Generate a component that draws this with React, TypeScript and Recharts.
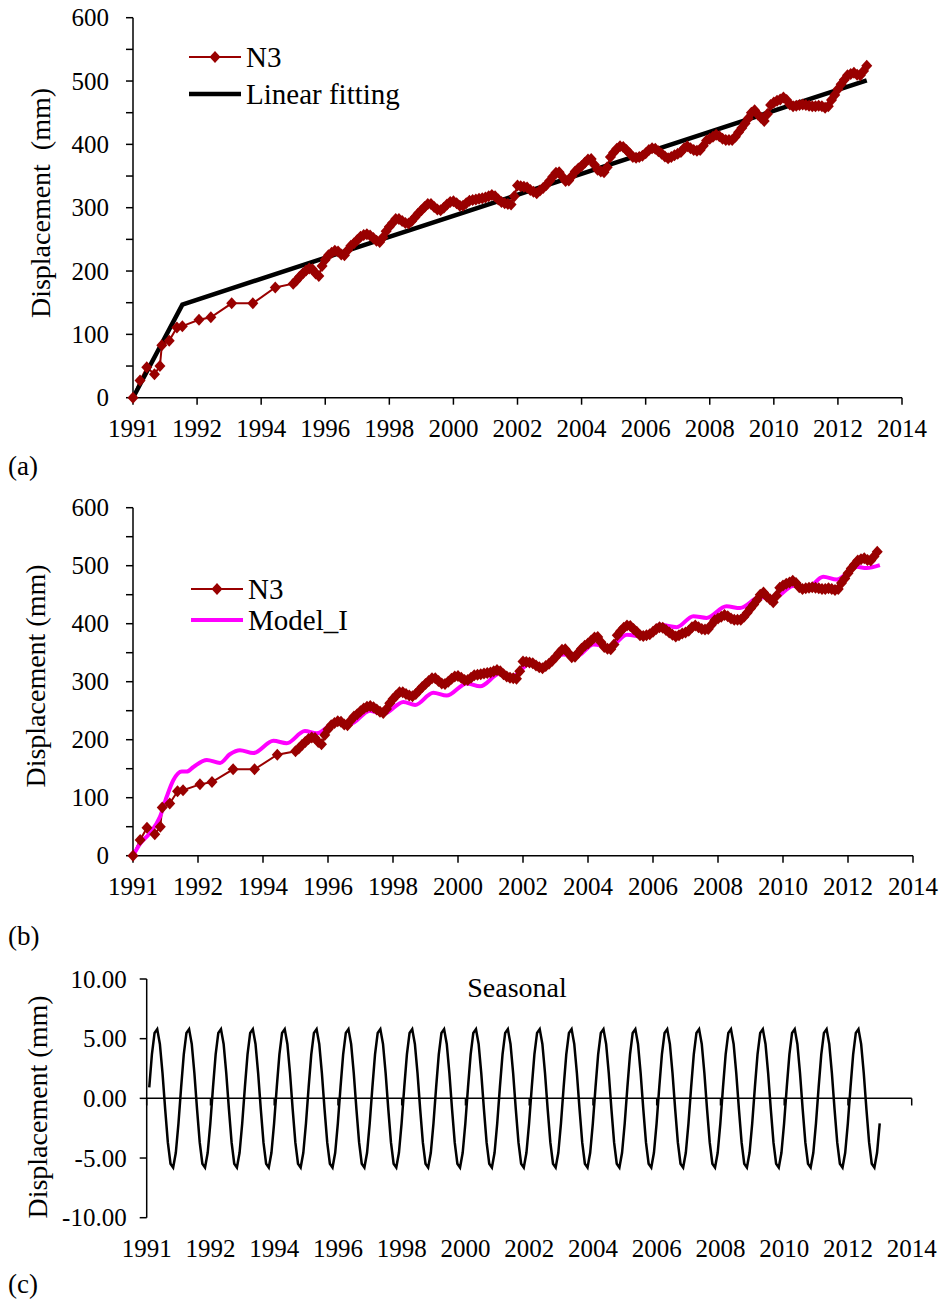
import React from 'react';
import { LineChart, Line, XAxis, YAxis, ReferenceLine } from 'recharts';

const SERIF = '"Liberation Serif", "Times New Roman", Times, serif';
const N3_COLOR = '#990000';
const MODEL_COLOR = '#ff00ff';
const AXIS_STYLE = { stroke: '#000', strokeWidth: 1.5 };

// x axis: a tick every two years; the first tick carries the start-year label
const YEAR_TICKS = [1990, 1992, 1994, 1996, 1998, 2000, 2002, 2004, 2006, 2008, 2010, 2012, 2014];
const YEAR_LABELS = ['1991', '1992', '1994', '1996', '1998', '2000', '2002', '2004', '2006', '2008', '2010', '2012', '2014'];

const DISP_TICKS = [0, 50, 100, 150, 200, 250, 300, 350, 400, 450, 500, 550, 600];
const SEASONAL_TICKS = [-10, -5, 0, 5, 10];

// N3 benchmark: sparse early surveys (decimal year, mm)
const N3_EARLY_YEARS = [1990.0, 1990.22, 1990.43, 1990.67, 1990.84, 1990.9, 1991.13, 1991.37, 1991.54, 1992.06, 1992.43, 1993.08, 1993.74, 1994.44];
const N3_EARLY_MM = [0, 27, 48, 37, 50, 83, 90, 111, 113, 123, 127, 149, 149, 174];

// N3 benchmark: dense record from 1995 on, one value every 0.1 year (mm)
const N3_DENSE_START = 1995.0;
const N3_DENSE_STEP = 0.1;
const N3_DENSE_MM = [
  180, 185, 191, 196, 201, 204, 203, 196, 192, 208,
  218, 225, 229, 232, 231, 226, 225, 233, 240, 244,
  249, 254, 257, 258, 256, 252, 248, 246, 253, 263,
  270, 276, 282, 282, 279, 276, 275, 279, 285, 291,
  296, 301, 306, 306, 301, 297, 296, 300, 305, 309,
  310, 307, 303, 303, 307, 311, 312, 313, 314, 315,
  316, 318, 320, 318, 313, 309, 307, 306, 305, 318,
  335, 334, 333, 332, 328, 325, 323, 327, 331, 336,
  342, 349, 355, 356, 349, 342, 343, 350, 357, 362,
  366, 371, 376, 377, 368, 360, 357, 356, 364, 380,
  387, 393, 397, 396, 391, 386, 380, 379, 380, 382,
  386, 391, 394, 393, 389, 385, 381, 378, 380, 383,
  385, 388, 394, 397, 394, 391, 390, 391, 398, 406,
  409, 412, 415, 413, 409, 407, 407, 407, 412, 419,
  426, 433, 441, 450, 454, 447, 442, 437, 448, 462,
  466, 469, 471, 474, 470, 463, 460, 461, 462, 463,
  462, 461, 460, 460, 461, 460, 458, 460, 470, 478,
  487, 495, 502, 509, 511, 513, 510, 509, 516, 524,
];

// Two-segment linear fit
const FIT_YEARS = [1990.0, 1991.54, 2012.9];
const FIT_MM = [0, 147, 501];

// Model_I (trend + seasonal term), read at its turning points
const MODEL_YEARS = [
  1990.0, 1990.22, 1990.52, 1990.83, 1991.04, 1991.24, 1991.5, 1991.65, 1991.86, 1992.27,
  1992.68, 1992.98, 1993.29, 1993.7, 1994.32, 1994.73, 1995.29, 1995.65, 1996.27, 1996.68,
  1997.29, 1997.7, 1998.32, 1998.68, 1999.24, 1999.65, 2000.27, 2000.68, 2001.29, 2001.7,
  2002.22, 2002.63, 2003.24, 2003.65, 2004.17, 2004.68, 2005.2, 2005.71, 2006.22, 2006.73,
  2007.24, 2007.65, 2008.26, 2008.68, 2009.29, 2009.7, 2010.32, 2010.73, 2011.24, 2011.65,
  2012.27, 2012.57, 2012.98,
];
const MODEL_MM = [
  0, 21, 39, 67, 102, 130, 145, 145, 153, 165,
  160, 175, 182, 177, 198, 194, 215, 211, 231, 227,
  250, 244, 265, 260, 281, 276, 297, 292, 314, 310,
  332, 327, 347, 344, 364, 361, 381, 377, 398, 394,
  413, 410, 430, 427, 446, 443, 465, 461, 481, 476,
  498, 496, 501,
];

// Seasonal component, monthly samples (mm)
const SEASONAL_START = 1990.08;
const SEASONAL_STEP = 1 / 12;
const SEASONAL_MM = [
  0.92, 3.69, 5.48, 5.8, 4.56, 2.1, -0.92, -3.69, -5.48, -5.8, -4.56, -2.1,
  0.92, 3.69, 5.48, 5.8, 4.56, 2.1, -0.92, -3.69, -5.48, -5.8, -4.56, -2.1,
  0.92, 3.69, 5.48, 5.8, 4.56, 2.1, -0.92, -3.69, -5.48, -5.8, -4.56, -2.1,
  0.92, 3.69, 5.48, 5.8, 4.56, 2.1, -0.92, -3.69, -5.48, -5.8, -4.56, -2.1,
  0.92, 3.69, 5.48, 5.8, 4.56, 2.1, -0.92, -3.69, -5.48, -5.8, -4.56, -2.1,
  0.92, 3.69, 5.48, 5.8, 4.56, 2.1, -0.92, -3.69, -5.48, -5.8, -4.56, -2.1,
  0.92, 3.69, 5.48, 5.8, 4.56, 2.1, -0.92, -3.69, -5.48, -5.8, -4.56, -2.1,
  0.92, 3.69, 5.48, 5.8, 4.56, 2.1, -0.92, -3.69, -5.48, -5.8, -4.56, -2.1,
  0.92, 3.69, 5.48, 5.8, 4.56, 2.1, -0.92, -3.69, -5.48, -5.8, -4.56, -2.1,
  0.92, 3.69, 5.48, 5.8, 4.56, 2.1, -0.92, -3.69, -5.48, -5.8, -4.56, -2.1,
  0.92, 3.69, 5.48, 5.8, 4.56, 2.1, -0.92, -3.69, -5.48, -5.8, -4.56, -2.1,
  0.92, 3.69, 5.48, 5.8, 4.56, 2.1, -0.92, -3.69, -5.48, -5.8, -4.56, -2.1,
  0.92, 3.69, 5.48, 5.8, 4.56, 2.1, -0.92, -3.69, -5.48, -5.8, -4.56, -2.1,
  0.92, 3.69, 5.48, 5.8, 4.56, 2.1, -0.92, -3.69, -5.48, -5.8, -4.56, -2.1,
  0.92, 3.69, 5.48, 5.8, 4.56, 2.1, -0.92, -3.69, -5.48, -5.8, -4.56, -2.1,
  0.92, 3.69, 5.48, 5.8, 4.56, 2.1, -0.92, -3.69, -5.48, -5.8, -4.56, -2.1,
  0.92, 3.69, 5.48, 5.8, 4.56, 2.1, -0.92, -3.69, -5.48, -5.8, -4.56, -2.1,
  0.92, 3.69, 5.48, 5.8, 4.56, 2.1, -0.92, -3.69, -5.48, -5.8, -4.56, -2.1,
  0.92, 3.69, 5.48, 5.8, 4.56, 2.1, -0.92, -3.69, -5.48, -5.8, -4.56, -2.1,
  0.92, 3.69, 5.48, 5.8, 4.56, 2.1, -0.92, -3.69, -5.48, -5.8, -4.56, -2.1,
  0.92, 3.69, 5.48, 5.8, 4.56, 2.1, -0.92, -3.69, -5.48, -5.8, -4.56, -2.1,
  0.92, 3.69, 5.48, 5.8, 4.56, 2.1, -0.92, -3.69, -5.48, -5.8, -4.56, -2.1,
  0.92, 3.69, 5.48, 5.8, 4.56, 2.1, -0.92, -3.69, -5.48, -5.8, -4.56, -2.1,
];

type Pt = { t: number; v: number };
const zip = (xs: number[], ys: number[]): Pt[] => xs.map((t, i) => ({ t, v: ys[i] }));

const n3Data: Pt[] = [
  ...zip(N3_EARLY_YEARS, N3_EARLY_MM),
  ...N3_DENSE_MM.map((v, i) => ({ t: N3_DENSE_START + i * N3_DENSE_STEP, v })),
];
const fitData = zip(FIT_YEARS, FIT_MM);
const modelData = zip(MODEL_YEARS, MODEL_MM);
const seasonalData: Pt[] = SEASONAL_MM.map((v, i) => ({ t: SEASONAL_START + i * SEASONAL_STEP, v }));

const yearLabel = (v: number) => {
  const i = YEAR_TICKS.indexOf(v);
  return i >= 0 ? YEAR_LABELS[i] : '';
};

const TICK_FONT = 25;
const TICK_TEXT_STYLE: React.CSSProperties = { fontFamily: SERIF, fontSize: TICK_FONT, fill: '#000' };

const YearTick = (props: any) => {
  const { x, y, payload } = props;
  return (
    <text x={x} y={y} dy="0.71em" textAnchor="middle" style={TICK_TEXT_STYLE}>
      {yearLabel(payload.value)}
    </text>
  );
};

const DispTick = (props: any) => {
  const { x, y, payload } = props;
  if (payload.value % 100 !== 0) return <g />;
  return (
    <text x={x} y={y} dy="0.35em" textAnchor="end" style={TICK_TEXT_STYLE}>
      {String(payload.value)}
    </text>
  );
};

const SeasonTick = (props: any) => {
  const { x, y, payload } = props;
  return (
    <text x={x} y={y} dy="0.35em" textAnchor="end" style={TICK_TEXT_STYLE}>
      {Number(payload.value).toFixed(2)}
    </text>
  );
};

const renderDiamond = (props: any) => {
  const { cx, cy, index } = props;
  if (cx == null || cy == null) return <g key={`n3-${index}`} />;
  return (
    <path
      key={`n3-${index}`}
      d={`M${cx},${cy - 6}L${cx + 5.5},${cy}L${cx},${cy + 6}L${cx - 5.5},${cy}Z`}
      fill={N3_COLOR}
    />
  );
};

const yearAxis = (showLine: boolean) => (
  <XAxis
    dataKey="t"
    type="number"
    domain={[1990, 2014]}
    ticks={YEAR_TICKS}
    interval={0}
    height={50}
    tickSize={7}
    tickMargin={15}
    tick={<YearTick />}
    axisLine={showLine ? AXIS_STYLE : false}
    tickLine={showLine ? AXIS_STYLE : false}
  />
);

const dispAxis = (
  <YAxis
    type="number"
    domain={[0, 600]}
    ticks={DISP_TICKS}
    interval={0}
    width={80}
    tickSize={7}
    tickMargin={17}
    tick={<DispTick />}
    axisLine={AXIS_STYLE}
    tickLine={AXIS_STYLE}
  />
);

const Abs = ({ left, top, children }: { left: number; top: number; children: React.ReactNode }) => (
  <div style={{ position: 'absolute', left, top }}>{children}</div>
);

const AxisTitle = ({ cx, cy, text }: { cx: number; cy: number; text: string }) => (
  <div
    style={{
      position: 'absolute',
      left: cx,
      top: cy,
      transform: 'translate(-50%, -50%) rotate(-90deg)',
      fontFamily: SERIF,
      fontSize: 28,
      lineHeight: 1,
      whiteSpace: 'pre',
      color: '#000',
    }}
  >
    {text}
  </div>
);

const PlainText = ({ left, cy, text, size, center }: { left: number; cy: number; text: string; size: number; center?: boolean }) => (
  <div
    style={{
      position: 'absolute',
      left,
      top: cy,
      transform: center ? 'translate(-50%, -50%)' : 'translateY(-50%)',
      fontFamily: SERIF,
      fontSize: size,
      lineHeight: 1,
      whiteSpace: 'pre',
      color: '#000',
    }}
  >
    {text}
  </div>
);

const LegendRow = ({ left, cy, label, color, width, diamond }: { left: number; cy: number; label: string; color: string; width: number; diamond?: boolean }) => (
  <div style={{ position: 'absolute', left, top: cy }}>
    <svg width={56} height={16} style={{ position: 'absolute', left: 0, top: -8, overflow: 'visible' }}>
      <line x1={0} y1={8} x2={52} y2={8} stroke={color} strokeWidth={width} />
      {diamond && <path d="M26,2L31.5,8L26,14L20.5,8Z" fill={color} />}
    </svg>
    <div
      style={{
        position: 'absolute',
        left: 57,
        top: 0,
        transform: 'translateY(-50%)',
        fontFamily: SERIF,
        fontSize: 29,
        lineHeight: 1,
        whiteSpace: 'pre',
        color: '#000',
      }}
    >
      {label}
    </div>
  </div>
);

function PanelA() {
  return (
    <LineChart width={944} height={470} margin={{ top: 17.7, right: 42, bottom: 22.3, left: 53 }}>
      {yearAxis(true)}
      {dispAxis}
      <Line data={n3Data} dataKey="v" stroke={N3_COLOR} strokeWidth={2} dot={renderDiamond} isAnimationActive={false} />
      <Line data={fitData} dataKey="v" stroke="#000" strokeWidth={4.5} dot={false} isAnimationActive={false} />
    </LineChart>
  );
}

function PanelB() {
  return (
    <LineChart width={944} height={440} margin={{ top: 17.7, right: 31, bottom: 24.3, left: 53 }}>
      {yearAxis(true)}
      {dispAxis}
      <Line data={n3Data} dataKey="v" stroke={N3_COLOR} strokeWidth={2} dot={renderDiamond} isAnimationActive={false} />
      <Line data={modelData} type="monotone" dataKey="v" stroke={MODEL_COLOR} strokeWidth={4} dot={false} isAnimationActive={false} />
    </LineChart>
  );
}

function PanelC() {
  return (
    <LineChart width={944} height={320} margin={{ top: 19, right: 32.3, bottom: 12.3, left: 66.7 }}>
      {yearAxis(false)}
      <YAxis
        type="number"
        domain={[-10, 10]}
        ticks={SEASONAL_TICKS}
        interval={0}
        width={80}
        tickSize={7}
        tickMargin={13}
        tick={<SeasonTick />}
        axisLine={AXIS_STYLE}
        tickLine={AXIS_STYLE}
      />
      <ReferenceLine y={0} stroke="#000" strokeWidth={1.5} />
      {YEAR_TICKS.map((t) => (
        <ReferenceLine key={t} segment={[{ x: t, y: 0 }, { x: t, y: -0.6 }]} stroke="#000" strokeWidth={1.5} />
      ))}
      <Line data={seasonalData} dataKey="v" stroke="#000" strokeWidth={2.5} dot={false} isAnimationActive={false} />
    </LineChart>
  );
}

export default function App() {
  return (
    <div style={{ position: 'absolute', left: 0, top: 0, width: 944, height: 1299, background: '#fff' }}>
      <Abs left={0} top={0}>
        <PanelA />
      </Abs>
      <Abs left={0} top={490}>
        <PanelB />
      </Abs>
      <Abs left={0} top={960}>
        <PanelC />
      </Abs>

      <AxisTitle cx={41} cy={203} text="Displacement  (mm)" />
      <AxisTitle cx={36} cy={676} text="Displacement (mm)" />
      <AxisTitle cx={38} cy={1107} text="Displacement (mm)" />

      <LegendRow left={189} cy={57} label="N3" color={N3_COLOR} width={2} diamond />
      <LegendRow left={189} cy={94} label="Linear fitting" color="#000" width={4.5} />
      <LegendRow left={191} cy={589} label="N3" color={N3_COLOR} width={2} diamond />
      <LegendRow left={191} cy={620} label="Model_I" color={MODEL_COLOR} width={4} />

      <PlainText left={517} cy={988} text="Seasonal" size={28} center />
      <PlainText left={8} cy={466} text="(a)" size={27} />
      <PlainText left={8} cy={936} text="(b)" size={27} />
      <PlainText left={8} cy={1284} text="(c)" size={27} />
    </div>
  );
}
